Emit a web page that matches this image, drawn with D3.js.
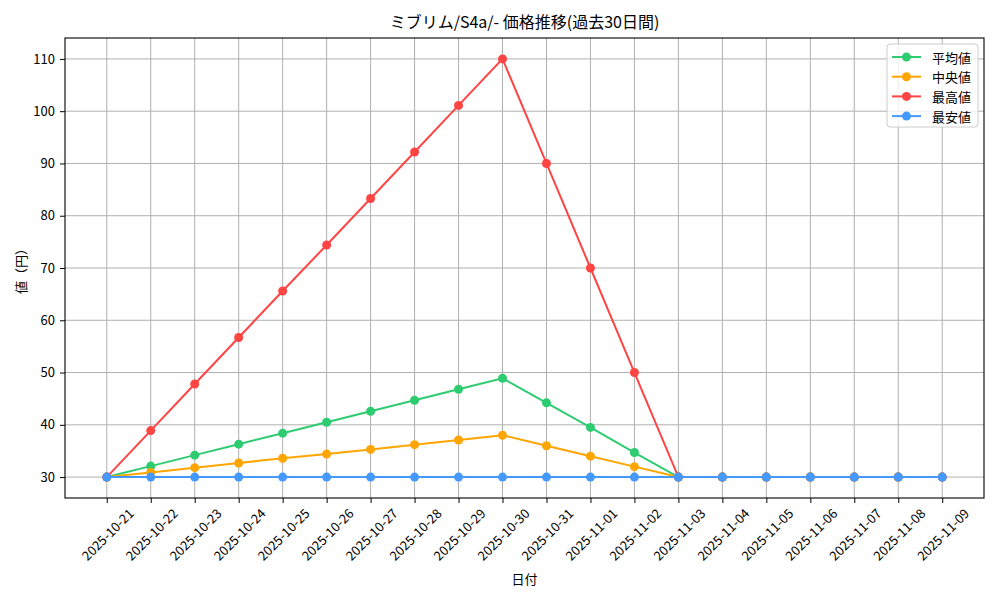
<!DOCTYPE html>
<html>
<head>
<meta charset="utf-8">
<title>価格推移</title>
<script src="https://d3js.org/d3.v7.min.js"></script>
<style>
  body { margin: 0; background: #fff; }
  text { font-family: "Noto Sans CJK JP", "DejaVu Sans", sans-serif; fill: #000; }
</style>
</head>
<body>
<div id="chart"></div>
<script>
// data
var dates = ["2025-10-21","2025-10-22","2025-10-23","2025-10-24","2025-10-25","2025-10-26","2025-10-27",
             "2025-10-28","2025-10-29","2025-10-30","2025-10-31","2025-11-01","2025-11-02","2025-11-03",
             "2025-11-04","2025-11-05","2025-11-06","2025-11-07","2025-11-08","2025-11-09"];
var avgVals = [30, 32.1, 34.2, 36.3, 38.4, 40.5, 42.6, 44.7, 46.8, 48.9, 44.2, 39.5, 34.7, 30, 30, 30, 30, 30, 30, 30];
var medVals = [30, 30.9, 31.8, 32.7, 33.6, 34.4, 35.3, 36.2, 37.1, 38, 36, 34, 32, 30, 30, 30, 30, 30, 30, 30];
var maxVals = [30, 38.9, 47.8, 56.7, 65.6, 74.4, 83.3, 92.2, 101.1, 110, 90, 70, 50, 30, 30, 30, 30, 30, 30, 30];
var minVals = [30, 30, 30, 30, 30, 30, 30, 30, 30, 30, 30, 30, 30, 30, 30, 30, 30, 30, 30, 30];
var seriesNames = ["平均値", "中央値", "最高値", "最安値"];
var seriesColors = ["#2ecc71", "#ffa500", "#ff4444", "#4499ff"];
var yTicks = [30, 40, 50, 60, 70, 80, 90, 100, 110];

var series = [avgVals, medVals, maxVals, minVals].map(function(v, i) {
  return { name: seriesNames[i], color: seriesColors[i], values: v };
});

var W = 1000, H = 600;
var margin = {top: 38, right: 16, bottom: 102, left: 65},
    width = W - margin.left - margin.right,
    height = H - margin.top - margin.bottom;

var svg = d3.select("#chart").append("svg")
    .attr("width", W).attr("height", H);
var g = svg.append("g")
    .attr("transform", "translate(" + margin.left + "," + margin.top + ")");

// matplotlib-like 5% padding
var n = dates.length;
var x = d3.scaleLinear().domain([-0.05 * (n - 1), (n - 1) * 1.05]).range([0, width]);
var y = d3.scaleLinear().domain([26, 114]).range([height, 0]);

// grid
g.append("g").selectAll("line").data(d3.range(n)).enter().append("line")
  .attr("x1", function(d) { return x(d); }).attr("x2", function(d) { return x(d); })
  .attr("y1", 0).attr("y2", height)
  .attr("stroke", "#b0b0b0").attr("stroke-width", 1);
g.append("g").selectAll("line").data(yTicks).enter().append("line")
  .attr("y1", function(d) { return y(d); }).attr("y2", function(d) { return y(d); })
  .attr("x1", 0).attr("x2", width)
  .attr("stroke", "#b0b0b0").attr("stroke-width", 1);

// lines + markers
var line = d3.line()
  .x(function(d, i) { return x(i); })
  .y(function(d) { return y(d); });

series.forEach(function(s) {
  g.append("path").datum(s.values)
    .attr("d", line)
    .attr("fill", "none")
    .attr("stroke", s.color)
    .attr("stroke-width", 2);
  g.append("g").selectAll("circle").data(s.values).enter().append("circle")
    .attr("cx", function(d, i) { return x(i); })
    .attr("cy", function(d) { return y(d); })
    .attr("r", 4.5)
    .attr("fill", s.color);
});

// frame
g.append("rect").attr("width", width).attr("height", height)
  .attr("fill", "none").attr("stroke", "#000").attr("stroke-width", 1.1);

// y axis
var yAxis = g.append("g")
  .call(d3.axisLeft(y).tickValues(yTicks).tickSize(5).tickPadding(5));
yAxis.select(".domain").remove();
yAxis.selectAll("text").style("font-size", "13px");

// x axis
var xAxis = g.append("g")
  .attr("transform", "translate(0," + height + ")")
  .call(d3.axisBottom(x).tickValues(d3.range(n)).tickSize(5).tickFormat(function(i) { return dates[i]; }));
xAxis.select(".domain").remove();
xAxis.selectAll("text")
  .style("font-size", "13px")
  .attr("text-anchor", "middle")
  .attr("dominant-baseline", "central")
  .attr("dy", null)
  .attr("y", 36)
  .attr("transform", "rotate(-45,0,36)");

// titles
svg.append("text")
  .attr("x", margin.left + width / 2).attr("y", 28)
  .attr("text-anchor", "middle")
  .style("font-size", "16px")
  .text("ミブリム/S4a/- 価格推移(過去30日間)");

svg.append("text")
  .attr("x", margin.left + width / 2).attr("y", 584)
  .attr("text-anchor", "middle")
  .style("font-size", "13px")
  .text("日付");

svg.append("text")
  .attr("transform", "translate(26," + (margin.top + height / 2) + ") rotate(-90)")
  .attr("text-anchor", "middle")
  .style("font-size", "13px")
  .text("値（円）");

// legend
var lg = svg.append("g").attr("transform", "translate(887,44)");
lg.append("rect").attr("width", 91).attr("height", 83).attr("rx", 3)
  .attr("fill", "#fff").attr("fill-opacity", 0.8)
  .attr("stroke", "#cccccc");
series.forEach(function(s, i) {
  var yy = 13 + i * 19.7;
  lg.append("line").attr("x1", 5).attr("x2", 34).attr("y1", yy).attr("y2", yy)
    .attr("stroke", s.color).attr("stroke-width", 2);
  lg.append("circle").attr("cx", 19.5).attr("cy", yy).attr("r", 4.5).attr("fill", s.color);
  lg.append("text").attr("x", 45).attr("y", yy)
    .attr("dominant-baseline", "central")
    .style("font-size", "13px")
    .text(s.name);
});
</script>
</body>
</html>
